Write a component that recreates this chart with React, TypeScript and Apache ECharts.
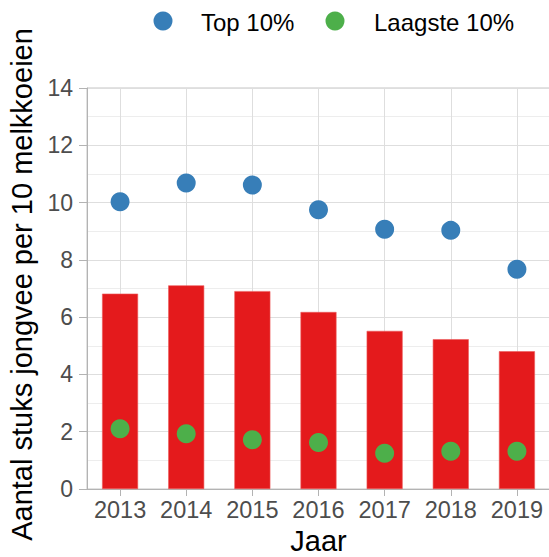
import React, { useEffect, useRef } from "react";
import * as echarts from "echarts";

const years = ["2013", "2014", "2015", "2016", "2017", "2018", "2019"];
const gemiddeld = [6.82, 7.11, 6.91, 6.18, 5.52, 5.23, 4.81];
const top10 = [10.03, 10.68, 10.61, 9.75, 9.07, 9.03, 7.67];
const laagste10 = [2.1, 1.93, 1.72, 1.62, 1.25, 1.32, 1.32];
const legendNames = ["Top 10%", "Laagste 10%"];
const yTitle = "Aantal stuks jongvee per 10 melkkoeien";
const xTitle = "Jaar";

const BLUE = "#377EB8";
const GREEN = "#4DAF4A";
const RED = "#E41A1C";

export default function App() {
  const ref = useRef<HTMLDivElement>(null);
  useEffect(() => {
    if (!ref.current) return;
    const chart = echarts.init(ref.current, null, { renderer: "svg", width: 549, height: 557 });
    const font = "Liberation Sans, Arial, sans-serif";
    chart.setOption({
      animation: false,
      backgroundColor: "#ffffff",
      textStyle: { fontFamily: font },
      graphic: [
        { type: "circle", shape: { cx: 163, cy: 21, r: 9.5 }, style: { fill: BLUE } },
        {
          type: "text",
          x: 201,
          y: 22,
          style: { text: legendNames[0], fontSize: 24, fontFamily: font, fill: "#000000", verticalAlign: "middle" },
        },
        { type: "circle", shape: { cx: 335, cy: 21, r: 9.5 }, style: { fill: GREEN } },
        {
          type: "text",
          x: 374,
          y: 22,
          style: { text: legendNames[1], fontSize: 24, fontFamily: font, fill: "#000000", verticalAlign: "middle" },
        },
      ],
      grid: {
        left: 87,
        right: -1,
        top: 88,
        bottom: 68,
        show: true,
        borderColor: "#C4C4C4",
        borderWidth: 1,
        containLabel: false,
        outerBoundsMode: "none",
      },
      xAxis: {
        type: "category",
        data: years,
        boundaryGap: true,
        name: xTitle,
        nameLocation: "middle",
        nameGap: 41,
        nameTextStyle: { fontSize: 29, lineHeight: 22, color: "#000000", fontFamily: font },
        axisLine: { show: true, lineStyle: { color: "#B3B3B3", width: 1 } },
        axisTick: { show: true, alignWithLabel: true, length: 7, lineStyle: { color: "#B3B3B3" } },
        axisLabel: { interval: 0, fontSize: 23.5, color: "#4D4D4D", margin: 9, fontFamily: font },
        splitLine: { show: true, alignWithLabel: true, lineStyle: { color: "#DEDEDE", width: 1 } },
      },
      yAxis: {
        type: "value",
        min: 0,
        max: 14,
        interval: 2,
        name: yTitle,
        nameLocation: "middle",
        nameGap: 41,
        nameRotate: 90,
        nameTextStyle: { fontSize: 29, color: "#000000", fontFamily: font, padding: [0, 0, 0, 8] },
        axisLine: { show: true, lineStyle: { color: "#B3B3B3", width: 1 } },
        axisTick: { show: true, length: 8, lineStyle: { color: "#B3B3B3" } },
        axisLabel: { fontSize: 23, color: "#4D4D4D", margin: 14, fontFamily: font },
        splitLine: { show: true, lineStyle: { color: "#DEDEDE", width: 1 } },
        minorTick: { show: false, splitNumber: 2 },
        minorSplitLine: { show: true, lineStyle: { color: "#EDEDED", width: 1 } },
      },
      series: [
        {
          name: "Gemiddeld",
          type: "bar",
          data: gemiddeld,
          barWidth: 36,
          itemStyle: { color: RED, borderColor: "#EC5A5B", borderWidth: 0.6 },
          z: 2,
        },
        {
          name: legendNames[0],
          type: "scatter",
          data: top10,
          symbol: "circle",
          symbolSize: 19,
          itemStyle: { color: BLUE, opacity: 1 },
          z: 3,
        },
        {
          name: legendNames[1],
          type: "scatter",
          data: laagste10,
          symbol: "circle",
          symbolSize: 19,
          itemStyle: { color: GREEN, opacity: 1 },
          z: 3,
        },
      ],
    });
    return () => chart.dispose();
  }, []);
  return <div ref={ref} style={{ width: 549, height: 557, position: "fixed", left: 0, top: 0 }} />;
}
